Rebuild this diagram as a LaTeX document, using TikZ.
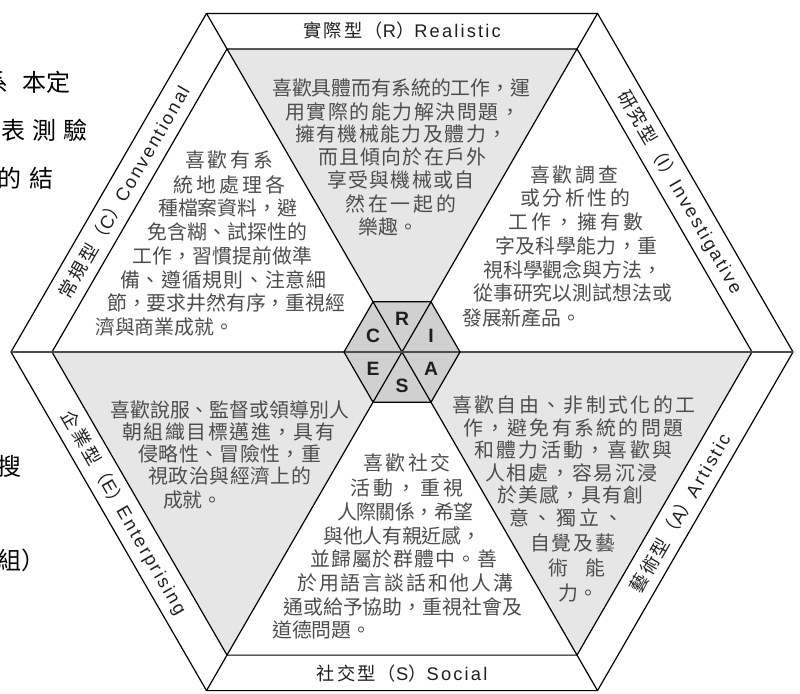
\documentclass[tikz,border=0pt]{standalone}
\usepackage{fontspec}
\newfontfamily\cjk{Noto Sans CJK TC}
\newfontfamily\cjkL[LetterSpace=12]{Noto Sans CJK TC}
\newfontfamily\latL[LetterSpace=12]{Liberation Sans}
\newfontfamily\latB{Liberation Sans}
\definecolor{txtgray}{HTML}{4D4D4D}
\definecolor{trigray}{HTML}{E6E6E6}
\definecolor{hexgray}{HTML}{D0D0D0}
\def\spA#1{#1\spB}
\def\spB#1{\ifx\relax#1\else\hss#1\expandafter\spB\fi}
% name, x1, x2, y(center), text
\newcommand\tl[5]{%
  \node[bodytxt] (#1) at (#2,#4+7.5) {\hbox to \dimexpr 0.75pt*\numexpr #3-#2\relax\relax{\spA#5\relax}};}
\tikzset{
  bodytxt/.style={anchor=base west, inner sep=0pt, text=txtgray,
    font={\cjk\fontsize{14.9pt}{16pt}\selectfont}},
  labtxt/.style={anchor=center, inner sep=0pt, text=black!88,
    font={\fontsize{13.7pt}{16pt}\selectfont}},
  hexlet/.style={anchor=center, inner sep=0pt, text=black!88,
    font={\latB\bfseries\fontsize{14.5pt}{15pt}\selectfont}},
  frag/.style={inner sep=0pt, text=black,
    font={\cjk\fontsize{18pt}{20pt}\selectfont}},
  hexline/.style={draw=black, line width=0.9pt, line join=miter},
  midline/.style={draw=black!70, line width=1.5pt}
}
\begin{document}
\begin{tikzpicture}[x=0.75pt, y=-0.75pt]
\useasboundingbox (0,0) rectangle (800,693);
\fill[white] (0,0) rectangle (800,693);
% geometry
\coordinate (O) at (402,352);
\coordinate (o0) at (793,352);
\coordinate (o1) at (597.5,13.4);
\coordinate (o2) at (206.5,13.4);
\coordinate (o3) at (11,352);
\coordinate (o4) at (206.5,690.6);
\coordinate (o5) at (597.5,690.6);
\coordinate (i0) at (752,352);
\coordinate (i1) at (577,48.9);
\coordinate (i2) at (227,48.9);
\coordinate (i3) at (52,352);
\coordinate (i4) at (227,655.1);
\coordinate (i5) at (577,655.1);
\coordinate (h0) at (460,352);
\coordinate (h1) at (431,301.8);
\coordinate (h2) at (373,301.8);
\coordinate (h3) at (344,352);
\coordinate (h4) at (373,402.2);
\coordinate (h5) at (431,402.2);
% gray triangles
\fill[trigray] (i2) -- (i1) -- (O) -- cycle;
\fill[trigray] (i0) -- (i5) -- (O) -- cycle;
\fill[trigray] (i3) -- (i4) -- (O) -- cycle;
\fill[hexgray] (h0) -- (h1) -- (h2) -- (h3) -- (h4) -- (h5) -- cycle;
% lines
\draw[hexline] (o0) -- (o1) -- (o2) -- (o3) -- (o4) -- (o5) -- cycle;
\draw[hexline] (i0) -- (i1) -- (i2) -- (i3) -- (i4) -- (i5) -- cycle;
\draw[hexline] (o1) -- (i1) (o2) -- (i2) (o4) -- (i4) (o5) -- (i5);
\draw[hexline] (i1) -- (i4) (i2) -- (i5);
\draw[midline] (o3) -- (o0);
\draw[hexline] (h0) -- (h1) -- (h2) -- (h3) -- (h4) -- (h5) -- cycle;
% centre letters
\node[hexlet] (lR) at (402,318.5) {R};
\node[hexlet] (lI) at (431,335.5) {I};
\node[hexlet] (lA) at (431,368.5) {A};
\node[hexlet] (lS) at (402,385.5) {S};
\node[hexlet] (lE) at (373,368.5) {E};
\node[hexlet] (lC) at (373,335.5) {C};
% band labels
\node[labtxt] (labR) at (402,31) {\cjkL 實際型（\latL R\cjkL ）\latL Realistic};
\node[labtxt] (labS) at (402,673.5) {\cjkL 社交型（\latL S\cjkL ）\latL Social};
\node[labtxt, rotate=60] (labC) at (124,192) {\cjkL 常規型（\latL C\cjkL ）\latL Conventional};
\node[labtxt, rotate=-60] (labI) at (680,192) {\cjkL 研究型（\latL I\cjkL ）\latL Investigative};
\node[labtxt, rotate=-60] (labE) at (124,513) {\cjkL 企業型（\latL E\cjkL ）\latL Enterprising};
\node[labtxt, rotate=60] (labA) at (680,513) {\cjkL 藝術型（\latL A\cjkL ）\latL Artistic};
% R block
\tl{r1}{272}{530}{88}{喜歡具體而有系統的工作，運}
\tl{r2}{285}{520}{112}{用實際的能力解決問題，}
\tl{r3}{295}{507}{134}{擁有機械能力及體力，}
\tl{r4}{318}{486}{157}{而且傾向於在戶外}
\tl{r5}{327}{474}{180}{享受與機械或自}
\tl{r6}{345}{456}{204}{然在一起的}
\tl{r7}{358}{418}{227}{樂趣。}
% C block
\tl{c1}{185}{273}{160}{喜歡有系}
\tl{c2}{173}{285}{185}{統地處理各}
\tl{c3}{158}{297}{208}{種檔案資料，避}
\tl{c4}{147}{307}{232}{免含糊、試探性的}
\tl{c5}{132}{312}{256}{工作，習慣提前做準}
\tl{c6}{120}{326}{280}{備、遵循規則、注意細}
\tl{c7}{107}{345}{303}{節，要求井然有序，重視經}
\tl{c8}{95}{234}{327}{濟與商業成就。}
% I block
\tl{n1}{530}{618}{175}{喜歡調查}
\tl{n2}{520}{630}{198}{或分析性的}
\tl{n3}{508}{643}{222}{工作，擁有數}
\tl{n4}{495}{657}{246}{字及科學能力，重}
\tl{n5}{483}{662}{270}{視科學觀念與方法，}
\tl{n6}{473}{672}{293}{從事研究以測試想法或}
\tl{n7}{462}{581}{318}{發展新產品。}
% E block
\tl{e1}{110}{349}{410}{喜歡說服、監督或領導別人}
\tl{e2}{122}{335}{432}{朝組織目標邁進，具有}
\tl{e3}{138}{321}{454}{侵略性、冒險性，重}
\tl{e4}{148}{311}{476}{視政治與經濟上的}
\tl{e5}{163}{222}{500}{成就。}
% S block
\tl{s1}{363}{450}{463}{喜歡社交}
\tl{s2}{350}{463}{488}{活動，重視}
\tl{s3}{337}{473}{512}{人際關係，希望}
\tl{s4}{323}{481}{536}{與他人有親近感，}
\tl{s5}{310}{497}{559}{並歸屬於群體中。善}
\tl{s6}{297}{513}{583}{於用語言談話和他人溝}
\tl{s7}{283}{522}{607}{通或給予協助，重視社會及}
\tl{s8}{272}{371}{630}{道德問題。}
% A block
\tl{a1}{452}{695}{405}{喜歡自由、非制式化的工}
\tl{a2}{463}{683}{428}{作，避免有系統的問題}
\tl{a3}{474}{672}{450}{和體力活動，喜歡與}
\tl{a4}{485}{657}{473}{人相處，容易沉浸}
\tl{a5}{497}{643}{495}{於美感，具有創}
\tl{a6}{509}{623}{518}{意、獨立、}
\tl{a7}{530}{615}{543}{自覺及藝}
\tl{a8}{548}{605}{568}{術能}
\tl{a9}{558}{598}{593}{力。}
% cropped page text at the left edge
\node[frag, anchor=base east] (f1) at (9,91) {系};
\node[frag, anchor=base west] (f2) at (22,91) {本定};
\node[frag, anchor=base west] (f3) at (1,139) {\hbox to 64.5pt{\spA 表測驗\relax}};
\node[frag, anchor=base west] (f4) at (-3,187) {\hbox to 42pt{\spA 的結\relax}};
\node[frag, anchor=base west] (f5) at (-3,475) {搜};
\node[frag, anchor=base west] (f6) at (-3,569) {組）};
\end{tikzpicture}
\end{document}
